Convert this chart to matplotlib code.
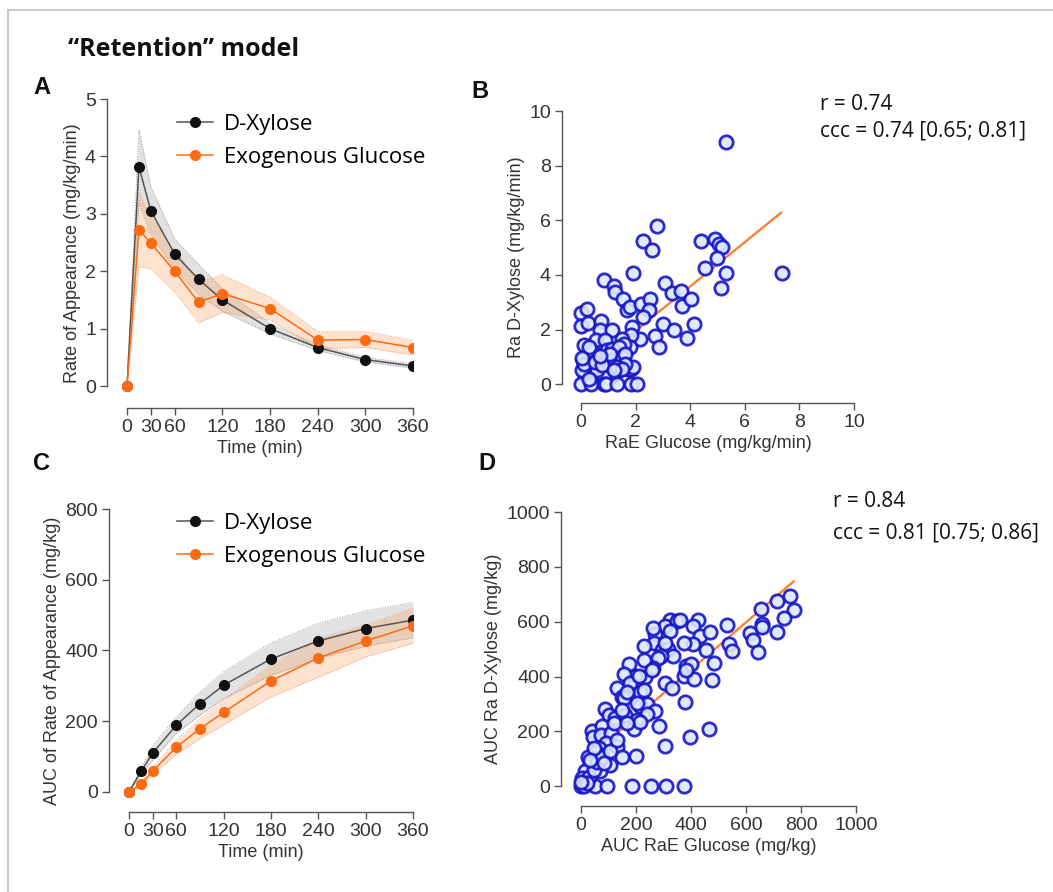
import numpy as np
import matplotlib
matplotlib.use("Agg")
import matplotlib.pyplot as plt
from matplotlib.lines import Line2D

plt.rcParams['font.family'] = ['Liberation Sans', 'DejaVu Sans']

# ---- data ----
time = [0, 15, 30, 60, 90, 120, 180, 240, 300, 360]
time_ticks = [0, 30, 60, 120, 180, 240, 300, 360]

ra_xyl = [0, 3.82, 3.05, 2.30, 1.86, 1.50, 1.00, 0.67, 0.46, 0.35]
ra_xyl_err = [0, 0.64, 0.42, 0.26, 0.26, 0.20, 0.09, 0.05, 0.04, 0.04]
ra_glc = [0, 2.72, 2.49, 2.00, 1.46, 1.61, 1.35, 0.80, 0.81, 0.67]
ra_glc_err = [0, 0.64, 0.45, 0.36, 0.36, 0.33, 0.20, 0.15, 0.14, 0.13]

auc_xyl = [0, 58, 110, 189, 250, 302, 376, 427, 462, 486]
auc_xyl_err = [0, 8, 20, 23, 33, 38, 46, 50, 50, 50]
auc_glc = [0, 22, 59, 127, 179, 225, 314, 379, 427, 470]
auc_glc_err = [0, 5, 10, 20, 28, 35, 45, 55, 45, 50]

# panel B scatter (RaE glucose, Ra D-xylose)
b_x = [5.32, 2.78, 2.29, 2.60, 1.89, 0.83, 1.20, 1.26, 1.54, 1.68, 1.78, 2.21, 2.54, 2.48,
       2.26, 3.06, 3.33, 3.67, 3.70, 4.04, 4.39, 4.91, 5.07, 5.18, 4.97, 4.55, 5.32, 5.13,
       7.35, 3.02, 3.39, 4.15, 3.90, 2.70, 2.85, 2.15, 1.87, 1.84, 1.80, 0.00, 0.23, 0.01,
       0.24, 0.74, 0.71, 1.13, 0.10, 0.56, 0.87, 1.50, 1.59, 0.95, 1.13, 1.38, 0.40, 0.62,
       0.06, 0.18, 0.40, 0.76, 1.05, 1.26, 1.50, 1.62, 1.41, 1.71, 1.85, 0.95, 0.16, 0.44,
       1.16, 0.04, 0.83, 0.00, 0.38, 0.83, 0.93, 1.32, 1.83, 2.07, 1.90, 1.62, 0.59, 0.10,
       0.52, 0.28, 1.07, 1.32, 0.77, 1.50, 1.20, 0.05, 0.30, 0.68]
b_y = [8.85, 5.79, 5.24, 4.90, 4.07, 3.83, 3.60, 3.38, 3.12, 2.71, 2.83, 2.93, 3.12, 2.71,
       2.46, 3.72, 3.35, 3.40, 2.88, 3.12, 5.23, 5.30, 5.15, 5.02, 4.62, 4.27, 4.09, 3.54,
       4.07, 2.22, 1.98, 2.20, 1.70, 1.78, 1.37, 1.66, 2.10, 1.82, 1.37, 2.61, 2.76, 2.12,
       2.24, 2.33, 2.00, 2.00, 1.43, 1.63, 1.63, 1.66, 1.49, 1.24, 1.30, 1.37, 1.22, 0.94,
       0.88, 0.63, 0.70, 0.85, 0.90, 0.76, 1.00, 1.10, 0.51, 0.56, 0.55, 0.49, 0.35, 0.61,
       0.35, 0.54, 0.27, 0.00, 0.00, 0.00, 0.00, 0.00, 0.00, 0.00, 0.63, 0.73, 0.51, 0.76,
       0.82, 1.37, 1.12, 0.63, 0.70, 0.57, 0.51, 0.95, 0.20, 1.05]
b_fit_x = [2.1, 7.33]
b_fit_y = [2.04, 6.28]

# panel D scatter (AUC RaE glucose, AUC Ra D-xylose)
d_x = [759, 711, 773, 737, 711, 655, 658, 660, 613, 625, 644, 531, 537, 549, 425, 406, 434,
       470, 455, 482, 476, 464, 322, 306, 349, 360, 322, 268, 264, 228, 295, 318, 335, 290,
       281, 261, 233, 228, 197, 173, 158, 131, 149, 158, 88, 101, 125, 161, 192, 216, 216,
       240, 270, 240, 204, 194, 285, 305, 216, 307, 330, 373, 383, 379, 410, 398, 400, 383,
       406, 373, 40, 42, 76, 74, 109, 92, 131, 149, 200, 107, 64, 55, 24, 32, 68, 13, 4, 16,
       52, 95, 185, 256, 310, 373, 1, 10, 28, 46, 58, 76, 107, 131, 46, 34, 82, 119, 167,
       149, 204, 228, 179, 258, 307, 261, 210, 167, 22, 0]
d_y = [695, 676, 641, 612, 564, 647, 592, 580, 558, 532, 491, 588, 518, 494, 607, 585, 549,
       562, 498, 449, 386, 210, 607, 585, 601, 607, 567, 555, 522, 513, 498, 501, 474, 474,
       467, 431, 400, 461, 403, 446, 409, 358, 327, 321, 282, 260, 248, 260, 364, 345, 291,
       300, 275, 263, 242, 208, 218, 147, 235, 378, 358, 403, 437, 308, 391, 181, 445, 425,
       519, 522, 202, 179, 218, 187, 193, 157, 145, 106, 112, 78, 139, 124, 106, 84, 56, 54,
       29, 11, 0, 0, 0, 0, 0, 0, 0, 0, 35, 60, 90, 108, 127, 169, 139, 96, 84, 230, 230,
       279, 303, 352, 376, 425, 522, 577, 403, 345, 11, 17]
d_fit_x = [125, 773]
d_fit_y = [188, 747]

# ---- style ----
W, H = 1053, 892
fig = plt.figure(figsize=(W / 100, H / 100), dpi=100)

AX_COL = '#555555'
TXT_COL = '#333333'
BLACK = '#111111'
ORANGE = '#ff6a13'
BLUE_E = '#1515c8'
BLUE_F = '#dde8fb'
LEG_FONT = ['Open Sans', 'DejaVu Sans']


def px_axes(l, t, r, b):
    return fig.add_axes([l / W, 1 - b / H, (r - l) / W, (b - t) / H])


def style(ax, xb, yb, xt, yt):
    for s in ['top', 'right']:
        ax.spines[s].set_visible(False)
    for s in ['left', 'bottom']:
        ax.spines[s].set_color(AX_COL)
        ax.spines[s].set_linewidth(1.0)
    ax.spines['bottom'].set_bounds(*xb)
    ax.spines['left'].set_bounds(*yb)
    ax.set_xticks(xt)
    ax.set_yticks(yt)
    ax.tick_params(direction='out', length=5, width=1, color=AX_COL,
                   labelsize=14, labelcolor=TXT_COL, pad=3)
    ax.set_facecolor('none')


def band(ax, x, y, e, col, edge):
    lo = np.array(y) - np.array(e)
    hi = np.array(y) + np.array(e)
    ax.fill_between(x, lo, hi, color=col, alpha=0.3, lw=0, zorder=1)
    ax.plot(x, lo, ls=':', lw=0.7, color=edge, zorder=1)
    ax.plot(x, hi, ls=':', lw=0.7, color=edge, zorder=1)


def timecourse(ax, yx, ex, yg, eg):
    band(ax, time, yx, ex, '#a0a0a0', '#999999')
    band(ax, time, yg, eg, '#f9a060', '#f3a070')
    ax.plot(time, yx, '-', color='#555555', lw=1.1, marker='o', ms=7,
            mfc=BLACK, mec=BLACK, zorder=3)
    ax.plot(time, yg, '-', color=ORANGE, lw=1.1, marker='o', ms=7,
            mfc=ORANGE, mec=ORANGE, zorder=4)


def legend(ax, x, y):
    h = [Line2D([], [], color='#555555', lw=1.1, marker='o', ms=7, mfc=BLACK, mec=BLACK),
         Line2D([], [], color=ORANGE, lw=1.1, marker='o', ms=7, mfc=ORANGE, mec=ORANGE)]
    ax.legend(h, ['D-Xylose', 'Exogenous Glucose'], frameon=False, loc='upper left',
              bbox_to_anchor=(x / W, 1 - y / H), bbox_transform=fig.transFigure,
              prop={'family': LEG_FONT, 'size': 16}, handlelength=1.6,
              handletextpad=0.5, labelspacing=0.55, borderaxespad=0, borderpad=0)


# panel A
axA = px_axes(107, 99, 413, 408)
timecourse(axA, ra_xyl, ra_xyl_err, ra_glc, ra_glc_err)
axA.set_xlim(-25.2, 360)
axA.set_ylim(-0.383, 5)
style(axA, (0, 360), (0, 5), time_ticks, [0, 1, 2, 3, 4, 5])
axA.set_xlabel('Time (min)', fontsize=13, color=TXT_COL, labelpad=3)
axA.set_ylabel('Rate of Appearance (mg/kg/min)', fontsize=13, color=TXT_COL, labelpad=3)
legend(axA, 177, 114)

# panel C
axC = px_axes(109, 509, 413, 812)
timecourse(axC, auc_xyl, auc_xyl_err, auc_glc, auc_glc_err)
axC.set_xlim(-25.4, 360)
axC.set_ylim(-56.6, 800)
style(axC, (0, 360), (0, 800), time_ticks, [0, 200, 400, 600, 800])
axC.set_xlabel('Time (min)', fontsize=13, color=TXT_COL, labelpad=3)
axC.set_ylabel('AUC of Rate of Appearance (mg/kg)', fontsize=13, color=TXT_COL, labelpad=3)
legend(axC, 177, 513)

# panel B
axB = px_axes(562, 111, 854, 403)
axB.plot(b_fit_x, b_fit_y, color='#ff7a2a', lw=1.6, zorder=2)
axB.scatter(b_x, b_y, s=92, facecolor=BLUE_F, edgecolor=BLUE_E, linewidth=2.0, alpha=0.9, zorder=3)
axB.set_xlim(-0.695, 10)
axB.set_ylim(-0.684, 10)
style(axB, (0, 10), (0, 10), [0, 2, 4, 6, 8, 10], [0, 2, 4, 6, 8, 10])
axB.set_xlabel('RaE Glucose (mg/kg/min)', fontsize=13, color=TXT_COL, labelpad=3)
axB.set_ylabel('Ra D-Xylose (mg/kg/min)', fontsize=13, color=TXT_COL, labelpad=3)

# panel D
axD = px_axes(561, 512, 856, 806)
axD.plot(d_fit_x, d_fit_y, color='#ff7a2a', lw=1.6, zorder=2)
axD.scatter(d_x, d_y, s=92, facecolor=BLUE_F, edgecolor=BLUE_E, linewidth=2.0, alpha=0.9, zorder=3)
axD.set_xlim(-72.7, 1000)
axD.set_ylim(-71.9, 1000)
style(axD, (0, 1000), (0, 1000), [0, 200, 400, 600, 800, 1000], [0, 200, 400, 600, 800, 1000])
axD.set_xlabel('AUC RaE Glucose (mg/kg)', fontsize=13, color=TXT_COL, labelpad=3)
axD.set_ylabel('AUC Ra D-Xylose (mg/kg)', fontsize=13, color=TXT_COL, labelpad=3)

# annotations
def ftext(x, y, s, **kw):
    fig.text(x / W, 1 - y / H, s, **kw)

ftext(68, 50, '\u201cRetention\u201d model', fontsize=18, fontweight='bold',
      family=LEG_FONT, va='center', ha='left', color='#111111')
for lab, x, y in [('A', 33, 88), ('B', 471, 92), ('C', 33, 463), ('D', 478, 464)]:
    ftext(x, y, lab, fontsize=17, fontweight='bold', va='center', ha='left', color='#111111')

ftext(820, 104, 'r = 0.74', fontsize=15, family=LEG_FONT, va='center', color='#111111')
ftext(820, 131, 'ccc = 0.74 [0.65; 0.81]', fontsize=15, family=LEG_FONT, va='center', color='#111111')
ftext(833, 502, 'r = 0.84', fontsize=15, family=LEG_FONT, va='center', color='#111111')
ftext(833, 533, 'ccc = 0.81 [0.75; 0.86]', fontsize=15, family=LEG_FONT, va='center', color='#111111')

# frame (top and left edges visible)
fig.add_artist(Line2D([8 / W, 1], [1 - 10 / H, 1 - 10 / H], color='#c0c0c0', lw=1.2))
fig.add_artist(Line2D([8 / W, 8 / W], [0, 1 - 10 / H], color='#c0c0c0', lw=1.2))

fig.savefig('out.png', dpi=100)
